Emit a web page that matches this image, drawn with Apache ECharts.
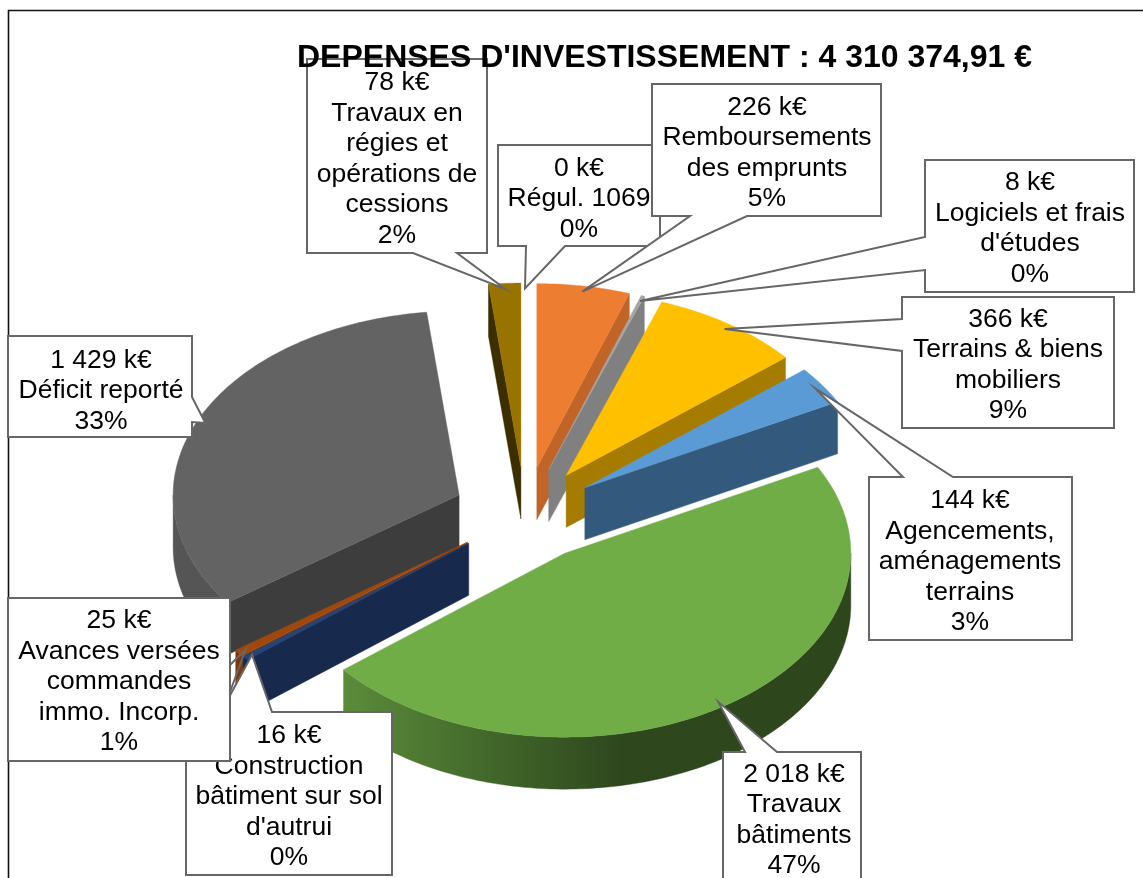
<!DOCTYPE html>
<html>
<head>
<meta charset="utf-8">
<style>html,body{margin:0;padding:0;background:#fff}#c{width:1143px;height:878px}</style>
<script src="https://cdn.jsdelivr.net/npm/echarts@6/dist/echarts.min.js"></script>
</head>
<body>
<div id="c"></div>
<script>
const titleText = "DEPENSES D'INVESTISSEMENT : 4 310 374,91 €";
const categories = [
  'Remboursements\ndes emprunts',
  'Logiciels et frais\nd\'études',
  'Terrains & biens\nmobiliers',
  'Agencements,\naménagements\nterrains',
  'Travaux\nbâtiments',
  'Construction\nbâtiment sur sol\nd\'autrui',
  'Avances versées\ncommandes\nimmo. Incorp.',
  'Déficit reporté',
  'Travaux en\nrégies et\nopérations de\ncessions',
  'Régul. 1069'
];
const values = [226, 8, 366, 144, 2018, 16, 25, 1429, 78, 0];
const percents = [5, 0, 9, 3, 47, 0, 1, 33, 2, 0];

const topColors  = ['#ED7D31','#A5A5A5','#FFC000','#5B9BD5','#70AD47','#264478','#9E480E','#636363','#997300','#888888'];
const wallColors = ['#C06428','#808080','#A67C00','#335A7C', null,'#17294D','#7A380B','#3D3D3D','#3D2E00','#666666'];
const greenWall = [[0,'#5B8C3A'],[0.3,'#41662A'],[0.55,'#2E471D'],[1,'#2D461C']];
const outerWallColors = ['#C06428','#808080','#A67C00','#335A7C', null,'#17294D','#7A380B','#555555','#3D2E00','#666666'];

// pie layout
const PIE = {cx:525, cy:514, rx:286, ry:184, depth:52, explodeX:72, explodeY:47, tip:0.97};
// callout layout: box [x0,y0,x1,y1], side of the wedge, wedge base, text centre
const callouts = [
  {i:8, box:[307,59,487,253],  side:'b', base:[413,457], text:[397,159]},
  {i:9, box:[498,145,660,246], side:'b', base:[526,565], text:[579,199]},
  {i:0, box:[652,84,881,216],  side:'b', base:[690,747], text:[767,153]},
  {i:1, box:[925,160,1134,292],side:'l', base:[237,270], text:[1030,228.5]},
  {i:2, box:[902,297,1114,428],side:'l', base:[319,351], text:[1008,365]},
  {i:3, box:[869,477,1072,640],side:'t', base:[903,953], text:[970,562]},
  {i:4, box:[723,752,861,900], side:'t', base:[745,777], text:[794,820]},
  {i:5, box:[186,712,392,875], side:'t', base:[221,272], text:[289,797]},
  {i:6, box:[8,598,230,761],   side:'r', base:[665,692], text:[119,682], open:true},
  {i:7, box:[8,336,192,437],   side:'r', base:[397,422], text:[101,391]}
];

const total = values.reduce((a,b)=>a+b,0);
const starts = [];
values.reduce((acc,v,i)=>{starts[i]=acc; return acc+v/total*360;},0);
const rad = d => d*Math.PI/180;
function sliceGeom(i){
  const a0 = starts[i], a1 = a0 + values[i]/total*360, mid = (a0+a1)/2;
  const cx = PIE.cx + PIE.explodeX*Math.sin(rad(mid));
  const cy = PIE.cy - PIE.explodeY*Math.cos(rad(mid));
  const pt = (a,dy=0,f=1)=>[cx+f*PIE.rx*Math.sin(rad(a)), cy-f*PIE.ry*Math.cos(rad(a))+dy];
  return {a0,a1,mid,cx,cy,pt};
}
function arc(g,a0,a1,dy){
  const n = Math.max(1,Math.ceil((a1-a0)/1)), out=[];
  for(let k=0;k<=n;k++) out.push(g.pt(a0+(a1-a0)*k/n,dy));
  return out;
}
function renderSlice(params, api){
  const i = params.dataIndex, v = api.value(1);
  if(!v) return {type:'group',children:[]};
  const g = sliceGeom(i), d = PIE.depth, kids = [], z = Math.round(g.cy)*4;
  const poly = (points,fill,dz)=>kids.push({type:'polygon',z2:z+dz,shape:{points},style:{fill,stroke:fill,lineWidth:0.4}});
  const radial = a=>[[g.cx,g.cy],g.pt(a),g.pt(a,d),[g.cx,g.cy+d]];
  if(Math.sin(rad(g.a0))<0) poly(radial(g.a0),wallColors[i],0);
  if(Math.sin(rad(g.a1))>0) poly(radial(g.a1),wallColors[i],0);
  const from = Math.max(g.a0,90), to = Math.min(g.a1,270);
  if(to>from){
    const pts = arc(g,from,to,0).concat(arc(g,from,to,d).reverse());
    const fill = outerWallColors[i] || {type:'linear',x:1,y:0,x2:0,y2:0,colorStops:greenWall.map(s=>({offset:1-s[0],color:s[1]}))};
    poly(pts,fill,1);
  }
  poly([[g.cx,g.cy]].concat(arc(g,g.a0,g.a1,0)),topColors[i],2);
  return {type:'group',children:kids};
}
function fmt(v){return String(v).replace(/\B(?=(\d{3})+$)/g,' ')+' k€';}
function renderCallout(params, api){
  const c = callouts[params.dataIndex], i = api.value(0), g = sliceGeom(i);
  const tip = g.pt(g.mid,0,PIE.tip), [x0,y0,x1,y1] = c.box, [b0,b1] = c.base;
  const z = params.dataIndex*3+1, line = {stroke:'#666',lineWidth:2,lineJoin:'miter'};
  const kids = [];
  let w;
  if(c.side==='b') w=[[b1,y1],tip,[b0,y1]];
  if(c.side==='t') w=[[b0,y0],tip,[b1,y0]];
  if(c.side==='l') w=[[x0,b1],tip,[x0,b0]];
  if(c.side==='r') w=[[x1,b0],tip,[x1,b1]];
  if(c.open){
    kids.push({type:'rect',z2:z,shape:{x:x0,y:y0,width:x1-x0,height:y1-y0},style:Object.assign({fill:'#fff'},line)});
    kids.push({type:'polyline',z2:z,shape:{points:w},style:Object.assign({fill:null},line)});
  } else {
    let pts;
    if(c.side==='b') pts=[[x0,y0],[x1,y0],[x1,y1]].concat(w,[[x0,y1]]);
    if(c.side==='t') pts=[[x0,y0]].concat(w,[[x1,y0],[x1,y1],[x0,y1]]);
    if(c.side==='l') pts=[[x0,y0],[x1,y0],[x1,y1],[x0,y1]].concat(w);
    if(c.side==='r') pts=[[x0,y0],[x1,y0]].concat(w,[[x1,y1],[x0,y1]]);
    kids.push({type:'polygon',z2:z,shape:{points:pts},style:Object.assign({fill:'#fff'},line)});
  }
  kids.push({type:'text',z2:z+1,style:{
    text: fmt(api.value(1))+'\n'+categories[i]+'\n'+percents[i]+'%',
    x:c.text[0], y:c.text[1], align:'center', verticalAlign:'middle',
    fontSize:26.5, lineHeight:30.5, fontFamily:'Liberation Sans', fill:'#000'
  }});
  return {type:'group',children:kids};
}
const chart = echarts.init(document.getElementById('c'),null,{renderer:'canvas'});
chart.setOption({
  animation:false,
  backgroundColor:'#fff',
  title:{text:titleText,left:297,top:42,padding:0,z:20,
    textStyle:{fontSize:32,fontWeight:'bold',fontFamily:'Liberation Sans',color:'#000'}},
  graphic:[{type:'polyline',silent:true,z:0,shape:{points:[[8.5,878],[8.5,10.5],[1143,10.5]]},
    style:{fill:null,stroke:'#111',lineWidth:1.6}}],
  series:[
    {type:'custom',coordinateSystem:'none',z:2,silent:true,clip:false,renderItem:renderSlice,
      data:values.map((v,i)=>[i,v])},
    {type:'custom',coordinateSystem:'none',z:3,silent:true,clip:false,renderItem:renderCallout,
      data:callouts.map(c=>[c.i,values[c.i]])}
  ]
});
</script>
</body>
</html>
